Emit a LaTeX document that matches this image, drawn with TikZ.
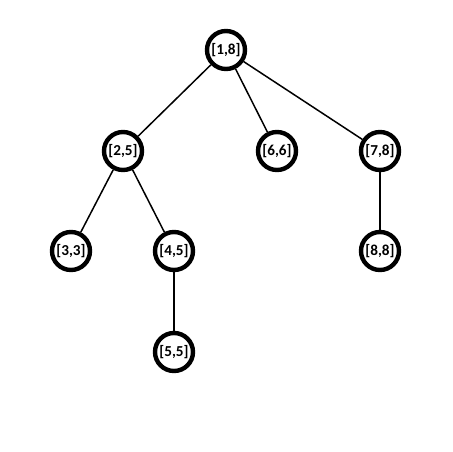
\documentclass[tikz,border=0pt]{standalone}
\usepackage{fontspec}
\setmainfont{Carlito}
\tikzset{
  seg/.style={circle, draw, line width=2.2pt, minimum size=19pt, inner sep=0pt,
    font=\fontsize{7.6}{9}\selectfont\bfseries},
  edge/.style={line width=0.75pt}
}
\begin{document}
\begin{tikzpicture}[x=0.5pt, y=-0.5pt]
  \useasboundingbox (0,0) rectangle (452,452);
  % nodes
  \node[seg] (n18) at (226,50) {[1,8]};
  \node[seg] (n25) at (123,151) {[2,5]};
  \node[seg] (n66) at (277,151) {[6,6]};
  \node[seg] (n78) at (380,151) {[7,8]};
  \node[seg] (n33) at (71,251) {[3,3]};
  \node[seg] (n45) at (174,251) {[4,5]};
  \node[seg] (n88) at (380,251) {[8,8]};
  \node[seg] (n55) at (174,352) {[5,5]};
  % edges
  \draw[edge] (n18) -- (n25);
  \draw[edge] (n18) -- (n66);
  \draw[edge] (n18) -- (n78);
  \draw[edge] (n25) -- (n33);
  \draw[edge] (n25) -- (n45);
  \draw[edge] (n78) -- (n88);
  \draw[edge] (n45) -- (n55);
\end{tikzpicture}
\end{document}
